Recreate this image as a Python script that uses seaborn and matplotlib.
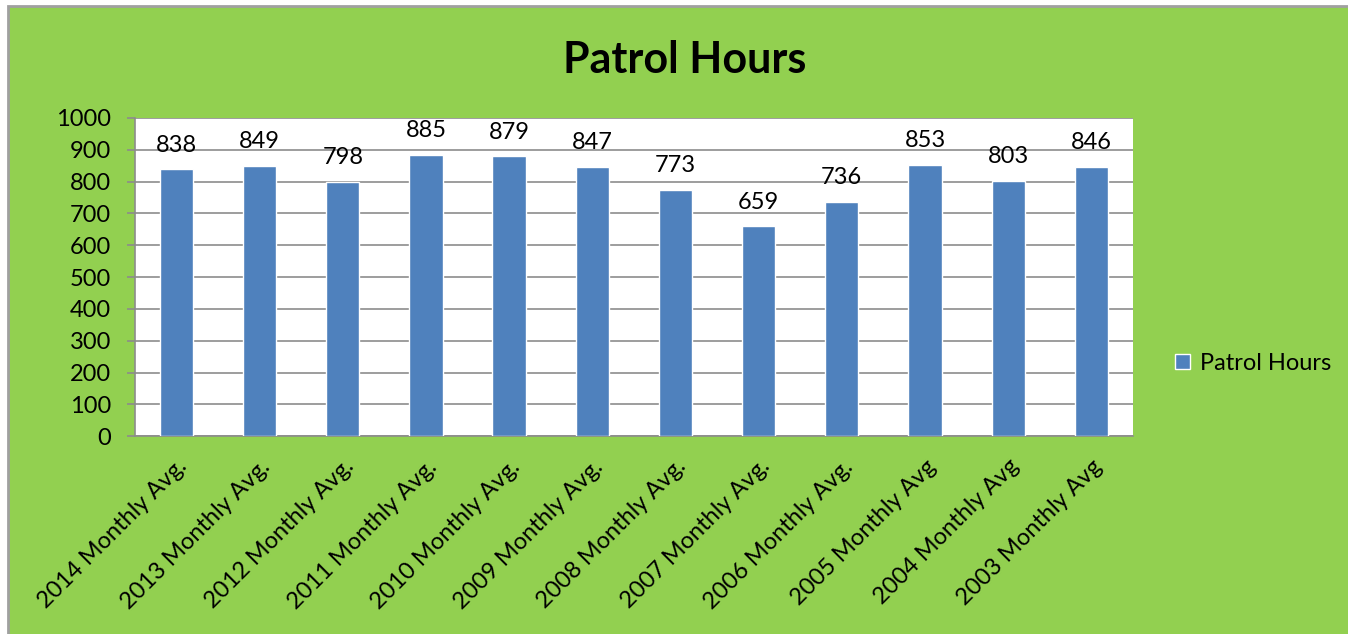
import matplotlib
matplotlib.use("Agg")
import matplotlib.pyplot as plt
import seaborn as sns
import pandas as pd
from matplotlib.patches import Rectangle

categories = ["2014 Monthly Avg.", "2013 Monthly Avg.", "2012 Monthly Avg.",
              "2011 Monthly Avg.", "2010 Monthly Avg.", "2009 Monthly Avg.",
              "2008 Monthly Avg.", "2007 Monthly Avg.", "2006 Monthly Avg.",
              "2005 Monthly Avg", "2004 Monthly Avg", "2003 Monthly Avg"]
hours = [838, 849, 798, 885, 879, 847, 773, 659, 736, 853, 803, 846]
yticks = [0, 100, 200, 300, 400, 500, 600, 700, 800, 900, 1000]

df = pd.DataFrame({"Category": categories, "Patrol Hours": hours})

sns.set_style("white")
plt.rcParams['font.family'] = ['Lato', 'DejaVu Sans']
plt.rcParams['text.color'] = 'black'
plt.rcParams['xtick.color'] = 'black'
plt.rcParams['ytick.color'] = 'black'

green = "#92D050"
blue = "#4F81BD"
grid_gray = "#8C8C8C"
fs = 17

fig = plt.figure(figsize=(13.48, 6.34), dpi=100, facecolor="white")
# chart area background with border (cropped on right and bottom)
fig.patches.append(Rectangle((8 / 1348, -0.05), 1.1, 1 - 6 / 634 + 0.05,
                             transform=fig.transFigure, facecolor=green,
                             edgecolor="#A0A0A0", linewidth=2, zorder=-10))

ax = fig.add_axes([0.100, 0.312, 0.7405, 0.502])
ax.set_facecolor("white")

sns.barplot(data=df, x="Category", y="Patrol Hours", color=blue, width=0.4,
            saturation=1, ax=ax, label="Patrol Hours", zorder=3)

for i, v in enumerate(hours):
    ax.annotate(str(v), (i, v), xytext=(0, 10), textcoords="offset points",
                ha="center", va="bottom", fontsize=fs, color="black")

ax.set_ylim(0, 1000)
ax.set_xlim(-0.5, len(categories) - 0.5)
ax.set_yticks(yticks)
ax.set_yticklabels([str(t) for t in yticks], fontsize=fs)
ax.yaxis.grid(True, color=grid_gray, linewidth=1.2, zorder=0)
ax.set_axisbelow(True)

# category ticks between bars, Excel-style
ax.set_xticks([i - 0.5 for i in range(len(categories) + 1)], minor=True)
ax.set_xticks(range(len(categories)))
ax.set_xticklabels(categories, rotation=45, ha="right", rotation_mode="anchor",
                   fontsize=fs)
ax.tick_params(axis="x", which="major", length=0, pad=14)
ax.tick_params(axis="x", which="minor", length=6, color=grid_gray, width=1.2,
               direction="out")
ax.tick_params(axis="y", length=6, color=grid_gray, width=1.2, direction="out",
               left=True, pad=11)

for s in ["top", "right"]:
    ax.spines[s].set_visible(False)
for s in ["left", "bottom"]:
    ax.spines[s].set_color(grid_gray)
    ax.spines[s].set_linewidth(1.2)

ax.set_xlabel("")
ax.set_ylabel("")

fig.text(0.508, 0.905, "Patrol Hours", ha="center", va="center",
         fontsize=31, fontweight="bold", color="black")

leg = ax.legend(loc="center left", bbox_to_anchor=(0.856, 0.427),
                bbox_transform=fig.transFigure, frameon=False, fontsize=fs,
                handlelength=0.65, handleheight=0.65, handletextpad=0.4)

fig.savefig("out.png", dpi=100, facecolor=fig.get_facecolor())
